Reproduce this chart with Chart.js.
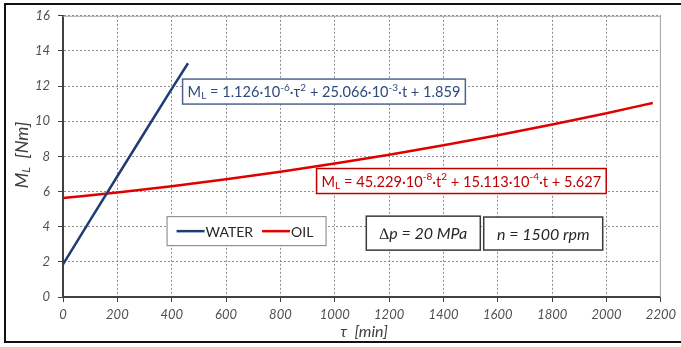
<!DOCTYPE html>
<html>
<head>
<meta charset="utf-8">
<script src="https://cdn.jsdelivr.net/npm/chart.js@4.4.1/dist/chart.umd.min.js"></script>
<style>
  html, body { margin: 0; padding: 0; background: #fff; }
</style>
</head>
<body>
<canvas id="torqueChart" width="681" height="347"></canvas>
<script>
// loading torque M_L [Nm] against running time tau [min]
const waterTime = [0, 100, 200, 300, 400, 460];
const waterTorque = [1.86, 4.37, 6.87, 9.36, 11.84, 13.3];
const oilTime = [0, 200, 400, 600, 800, 1000, 1200, 1400, 1600, 1800, 2000, 2170];
const oilTorque = [5.63, 5.95, 6.30, 6.70, 7.13, 7.59, 8.09, 8.63, 9.20, 9.81, 10.46, 11.04];
const seriesNames = ['WATER', 'OIL'];
const seriesColors = ['#1f3d73', '#e00000'];
const xTicks = [0, 200, 400, 600, 800, 1000, 1200, 1400, 1600, 1800, 2000, 2200];
const yTicks = [0, 2, 4, 6, 8, 10, 12, 14, 16];

// fitted equations, as [text, 'sub' | 'sup' | '']
const waterEq = [['M', ''], ['L', 'sub'], [' = 1.126\u00b710', ''], ['-6', 'sup'], ['\u00b7\u03c4', ''], ['2', 'sup'],
  [' + 25.066\u00b710', ''], ['-3', 'sup'], ['\u00b7t + 1.859', '']];
const oilEq = [['M', ''], ['L', 'sub'], [' = 45.229\u00b710', ''], ['-8', 'sup'], ['\u00b7t', ''], ['2', 'sup'],
  [' + 15.113\u00b710', ''], ['-4', 'sup'], ['\u00b7t + 5.627', '']];
const testParams = ['\u2206p = 20 MPa', 'n = 1500 rpm'];

const FONT = 'Lato';

function toPoints(xs, ys) {
  return xs.map((x, i) => ({ x: x, y: ys[i] }));
}

// draws text made of normal / sub / sup pieces, returns width
function richText(ctx, parts, x, y, size, style, draw) {
  let cx = x;
  for (const [t, kind] of parts) {
    const s = kind ? Math.round(size * 0.68) : size;
    ctx.font = style + ' ' + s + 'px ' + FONT;
    const dy = kind === 'sup' ? -size * 0.36 : kind === 'sub' ? size * 0.24 : 0;
    if (draw) ctx.fillText(t, cx, y + dy);
    cx += ctx.measureText(t).width;
  }
  return cx - x;
}

function eqBox(ctx, parts, left, top, color, border) {
  const size = 14.6;
  ctx.textBaseline = 'middle';
  ctx.textAlign = 'left';
  const w = richText(ctx, parts, 0, 0, size, 'normal', false);
  const h = 25;
  ctx.fillStyle = '#fff';
  ctx.fillRect(left, top, w + 10, h);
  ctx.lineWidth = 1.5;
  ctx.strokeStyle = border;
  ctx.strokeRect(left, top, w + 10, h);
  ctx.fillStyle = color;
  richText(ctx, parts, left + 5, top + h / 2 + 1, size, 'normal', true);
}

function plainBox(ctx, text, left, top, w, h) {
  ctx.fillStyle = '#fff';
  ctx.fillRect(left, top, w, h);
  ctx.lineWidth = 1.5;
  ctx.strokeStyle = '#3a3a3a';
  ctx.strokeRect(left, top, w, h);
  ctx.fillStyle = '#262626';
  ctx.font = 'italic 16px ' + FONT;
  ctx.textAlign = 'center';
  ctx.textBaseline = 'middle';
  ctx.fillText(text, left + w / 2, top + h / 2 + 1);
}

const overlays = {
  id: 'overlays',
  beforeDatasetsDraw(chart) {
    const { ctx, chartArea: a } = chart;
    ctx.save();
    ctx.strokeStyle = '#a6a6a6';
    ctx.lineWidth = 1;
    ctx.beginPath();
    ctx.moveTo(a.left, a.top + 0.5);
    ctx.lineTo(a.right - 0.5, a.top + 0.5);
    ctx.lineTo(a.right - 0.5, a.bottom);
    ctx.stroke();
    ctx.restore();
  },
  afterDraw(chart) {
    const { ctx, scales: { x, y } } = chart;
    ctx.save();

    // outer frame
    ctx.strokeStyle = '#111';
    ctx.lineWidth = 2;
    ctx.beginPath();
    ctx.moveTo(690, 4);
    ctx.lineTo(5, 4);
    ctx.lineTo(5, 342);
    ctx.lineTo(690, 342);
    ctx.stroke();

    // equation labels
    eqBox(ctx, waterEq, x.getPixelForValue(440), y.getPixelForValue(12.4), '#2f4b7c', '#4e648f');
    eqBox(ctx, oilEq, x.getPixelForValue(933), y.getPixelForValue(7.31), '#c00000', '#c00000');

    // legend box
    const lx = x.getPixelForValue(381), ly = y.getPixelForValue(4.6);
    ctx.fillStyle = '#fff';
    ctx.fillRect(lx, ly, 159, 29);
    ctx.lineWidth = 1;
    ctx.strokeStyle = '#7f7f7f';
    ctx.strokeRect(lx + 0.5, ly + 0.5, 159, 29);
    ctx.font = '14px ' + FONT;
    ctx.textAlign = 'left';
    ctx.textBaseline = 'middle';
    let cx = lx + 10;
    seriesNames.forEach((name, i) => {
      ctx.strokeStyle = seriesColors[i];
      ctx.lineWidth = 2.5;
      ctx.beginPath();
      ctx.moveTo(cx, ly + 15);
      ctx.lineTo(cx + 28, ly + 15);
      ctx.stroke();
      ctx.fillStyle = '#262626';
      ctx.fillText(name, cx + 29, ly + 16);
      cx += 29 + ctx.measureText(name).width + 9;
    });

    // test conditions
    plainBox(ctx, testParams[0], x.getPixelForValue(1116), y.getPixelForValue(4.6), 114, 34);
    plainBox(ctx, testParams[1], x.getPixelForValue(1548), y.getPixelForValue(4.55), 119, 33);

    // axis titles
    ctx.fillStyle = '#404040';
    ctx.textAlign = 'left';
    ctx.textBaseline = 'middle';
    ctx.save();
    ctx.translate(22, 155);
    ctx.rotate(-Math.PI / 2);
    const yTitle = [['M', ''], ['L', 'sub'], ['  [Nm]', '']];
    const tw = richText(ctx, yTitle, 0, 0, 18, 'italic', false);
    richText(ctx, yTitle, -tw / 2, 0, 18, 'italic', true);
    ctx.restore();

    ctx.font = 'italic 16px ' + FONT;
    ctx.textAlign = 'center';
    ctx.fillText('\u03c4  [min]', 364, 332);
    ctx.restore();
  }
};

const axisTicks = {
  color: '#505050',
  font: { family: FONT, style: 'italic', size: 13 },
  callback: v => String(v)
};
const gridStyle = { color: '#8c8c8c', tickColor: '#404040', tickLength: 5, tickBorderDash: [] };
const axisBorder = { color: '#404040', width: 2, dash: [2, 2] };

new Chart(document.getElementById('torqueChart'), {
  type: 'line',
  data: {
    datasets: [
      { label: seriesNames[0], data: toPoints(waterTime, waterTorque), borderColor: seriesColors[0], borderWidth: 2.5, pointRadius: 0, tension: 0 },
      { label: seriesNames[1], data: toPoints(oilTime, oilTorque), borderColor: seriesColors[1], borderWidth: 2.5, pointRadius: 0, cubicInterpolationMode: 'monotone' }
    ]
  },
  options: {
    responsive: false,
    animation: false,
    devicePixelRatio: 1,
    layout: { padding: { left: 5, right: 17, top: 13, bottom: 5 } },
    plugins: { legend: { display: false }, tooltip: { enabled: false } },
    scales: {
      x: {
        type: 'linear', min: 0, max: 2200,
        afterBuildTicks: s => { s.ticks = xTicks.map(v => ({ value: v })); },
        afterFit: s => { s.height = 45; },
        ticks: Object.assign({ padding: 5, maxRotation: 0 }, axisTicks),
        grid: gridStyle,
        border: axisBorder
      },
      y: {
        min: 0, max: 16,
        afterBuildTicks: s => { s.ticks = yTicks.map(v => ({ value: v })); },
        afterFit: s => { s.width = 58; },
        ticks: Object.assign({ padding: 8 }, axisTicks),
        grid: gridStyle,
        border: axisBorder
      }
    }
  },
  plugins: [overlays]
});
</script>
</body>
</html>
